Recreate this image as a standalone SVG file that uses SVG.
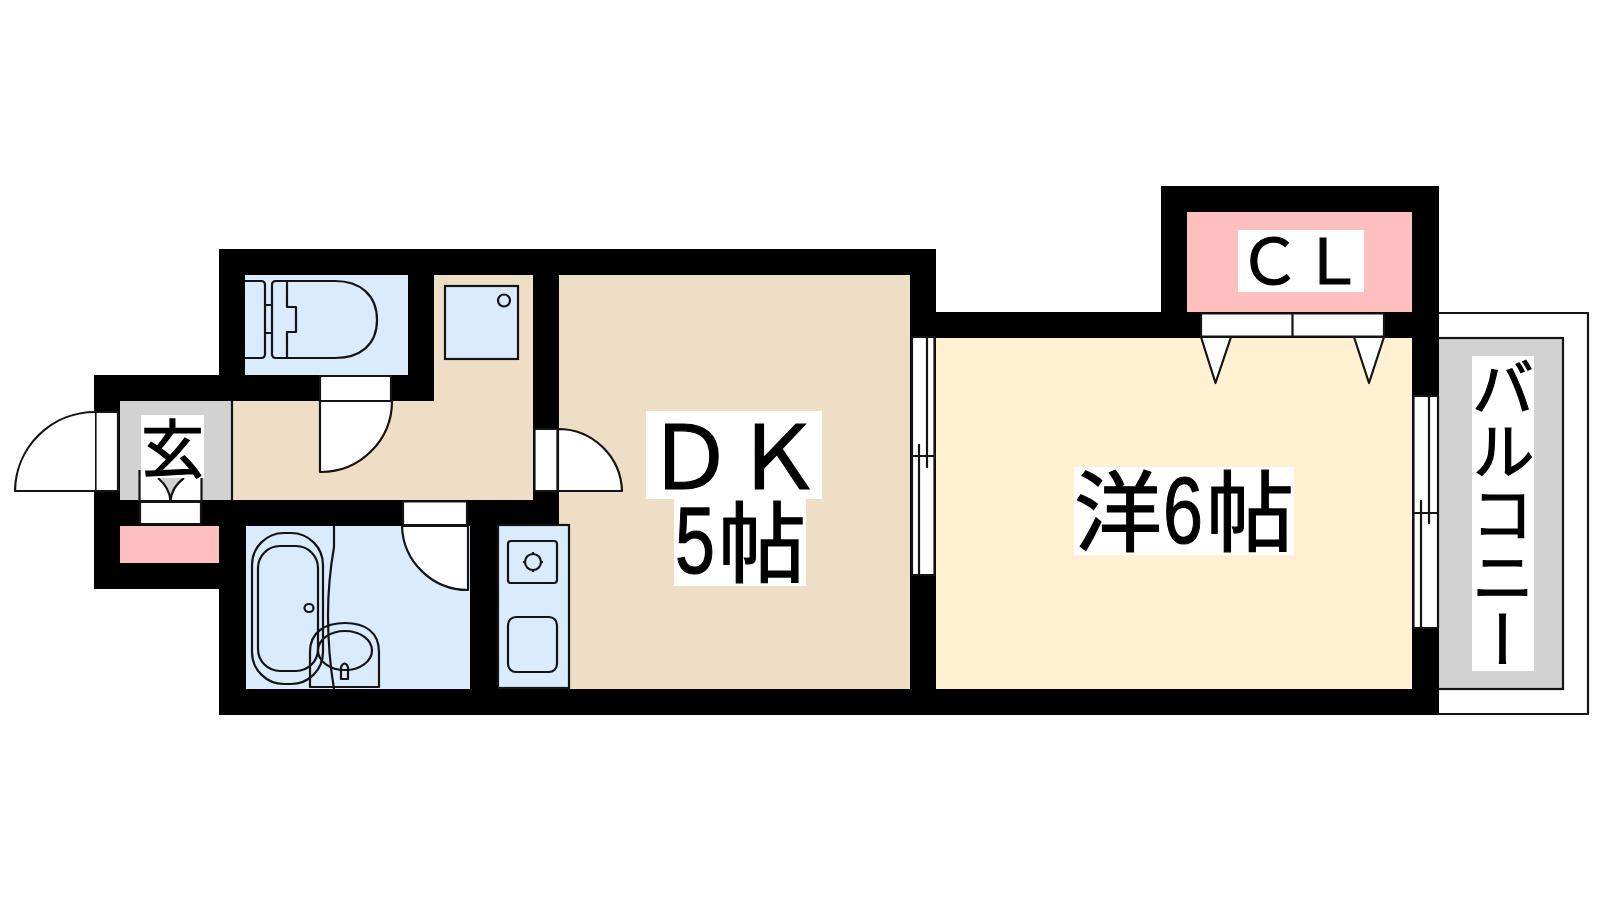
<svg xmlns="http://www.w3.org/2000/svg" width="1600" height="900" viewBox="0 0 1600 900">
<style>
.l{fill:none;stroke:#141414;stroke-width:2.2;stroke-linejoin:round}
.w{fill:#fff;stroke:#141414;stroke-width:2.2;stroke-linejoin:round}
.b{fill:#DAEBFE}
.h{fill:#EEDEC5}
.p{fill:#FFBFBF}
.g{fill:#D2D2D2}
.e{stroke:#141414;stroke-width:2.2}
.t{font-family:"Noto Sans CJK JP","Liberation Sans",sans-serif;fill:#000;stroke:#000;stroke-width:1.2}
.n{font-family:"Liberation Sans",sans-serif;font-size:94px}
</style>
<rect width="1600" height="900" fill="#fff"/>
<g id="balcony">
<rect x="1425" y="313" width="163" height="401" class="w"/>
<rect x="1425" y="338" width="138" height="351" class="g e"/>
</g>
<path id="walls" fill="#000" d="M219 249H936V312H1161V186H1439V715H219V589H94V375H219Z"/>
<g id="rooms">
<rect x="245" y="275" width="163" height="100" class="b"/>
<path class="h" d="M434 275H533V500H232V401H434Z"/>
<rect x="120" y="401" width="112" height="99" class="g"/>
<path class="l" d="M232 401V500"/>
<rect x="120" y="526" width="99" height="37" class="p"/>
<rect x="246" y="526" width="224" height="163" class="b"/>
<rect x="559" y="275" width="351" height="414" class="h"/>
<rect x="936" y="338" width="476" height="351" fill="#FFF1D2"/>
<rect x="1187" y="212" width="225" height="100" class="p"/>
</g>
<g id="toilet">
<path class="l" d="M245 281H261Q265 281 265 285V354Q265 358 261 358H245M265 305H272M265 333H272"/>
<path class="l" d="M287 281H276Q272 281 272 285V354Q272 358 276 358H287M287 281V307H296V332H287V358M287 281H335C360 281 377 295 377 320C377 345 360 358 335 358H287"/>
</g>
<g id="washer">
<rect x="445" y="286" width="73" height="73" class="b e"/>
<circle cx="504" cy="300.500" r="6" class="l"/>
</g>
<g id="bath">
<path class="l" d="M334 526V547C330 570 328 590 328 615C328 645 330 665 334 689"/>
<rect x="252" y="533" width="71" height="151" rx="32" class="l"/>
<rect x="258" y="546" width="60" height="125" rx="22" class="l"/>
<ellipse cx="309" cy="608" rx="4.500" ry="4" class="l"/>
<path class="l" d="M310 687V652C310 632 325 623 345 623C365 623 379 632 379 652V687Z"/>
<ellipse cx="345" cy="650.500" rx="27" ry="19.500" class="l"/>
<path class="l" d="M341 679V667Q344.500 660 348 667V679Z"/>
</g>
<g id="kitchen">
<rect x="498" y="525" width="71" height="163" class="b e"/>
<rect x="508" y="541" width="49" height="42" rx="3" class="l"/>
<circle cx="533" cy="562" r="8" class="l"/>
<path class="l" d="M533 552V555M533 569V572M523 562H526M540 562H543"/>
<rect x="508" y="617" width="49" height="55" rx="8" class="l"/>
</g>
<g id="doors">
<rect x="95.500" y="412" width="22.500" height="79" class="w"/>
<path class="w" d="M95 412A80 80 0 0 0 15 491H95"/>
<rect x="320" y="376" width="71" height="25" class="w"/>
<path class="w" d="M320 401H392A71 71 0 0 1 320 472Z"/>
<rect x="534.500" y="429" width="23" height="62" class="w"/>
<path class="w" d="M558 429A64 64 0 0 1 622 491H558Z"/>
<rect x="403" y="501.500" width="64" height="23.500" class="w"/>
<path class="w" d="M402 526H468V590A66 66 0 0 1 402 526Z"/>
<rect x="140" y="502" width="61" height="22" class="w"/>
<rect x="140.500" y="476" width="60.500" height="24" fill="#fff"/>
<path d="M158 478H184C176 484 171 492 170.500 500C170 492 165 484 158 478Z" fill="#D2D2D2"/>
<path class="l" d="M139.500 470V501H201.500V478M158 478C165 484 170 492 170.500 501C171 492 176 484 184 478"/>
<rect x="1201" y="313.500" width="183" height="23" class="w"/>
<path class="l" d="M1292.500 313.500V336.500"/>
<path class="w" d="M1201 337H1231L1215.500 383Z"/>
<path class="w" d="M1354 337H1384L1369 383Z"/>
</g>
<g id="windows">
<rect x="912" y="337" width="22.500" height="238" class="w"/>
<path class="l" d="M927 337V468M919 444V575M912 456H935"/>
<rect x="1413.500" y="396" width="24.500" height="232" class="w"/>
<path class="l" d="M1429 396V524M1421 500V628M1413 513H1438"/>
</g>
<g id="labels">
<rect x="141" y="415" width="63" height="63" fill="#fff"/>
<rect x="1238" y="230" width="126" height="62" fill="#fff"/>
<rect x="646" y="411" width="176" height="88" fill="#fff"/>
<rect x="674" y="499" width="132" height="87" fill="#fff"/>
<rect x="1074" y="467" width="220" height="88" fill="#fff"/>
<rect x="1472" y="356" width="62" height="315" fill="#fff"/>
<text class="t" x="141" y="472" font-size="63">玄</text>
<text class="t" x="1238" y="284" font-size="63">ＣＬ</text>
<text class="t" x="646" y="489" font-size="88">ＤＫ</text>
<text class="t" y="573" font-size="88"><tspan class="n" x="675" textLength="40" lengthAdjust="spacingAndGlyphs">5</tspan><tspan x="718" y="575">帖</tspan></text>
<text class="t" y="543" font-size="88"><tspan x="1074" y="544">洋</tspan><tspan class="n" x="1163" y="543" textLength="40" lengthAdjust="spacingAndGlyphs">6</tspan><tspan x="1206" y="544">帖</tspan></text>
<text class="t" x="1503" y="356" font-size="63" style="writing-mode:vertical-rl;text-orientation:upright">バルコニー</text>
</g>
</svg>
